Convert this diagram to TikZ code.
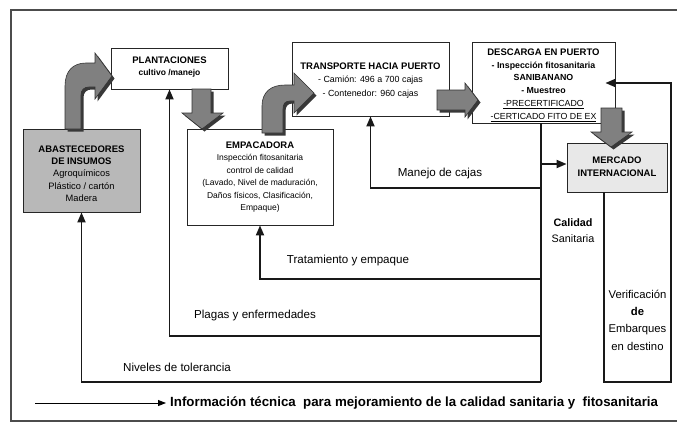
\documentclass[tikz,border=0pt]{standalone}
\usepackage{fontspec}
\setmainfont{Liberation Sans}
\usetikzlibrary{arrows.meta}
\newcommand\ttlfont{\fontsize{9.5}{12.4}\selectfont\bfseries}
\begin{document}
\begin{tikzpicture}[x=1pt,y=-1pt,
  box/.style={draw=black!85, line width=0.8pt, fill=white, inner sep=0pt},
  conn/.style={line width=1.8pt, draw=black!90},
  tip/.style={-{Triangle[width=8pt,length=10pt]}},
  fat/.style={fill=black!50, draw=black!80, line width=0.6pt},
  fatsh/.style={fill=black!78, draw=none},
  btxt/.style={align=center, inner sep=0pt},
  lbl/.style={inner sep=0pt, font=\fontsize{11.6}{14}\selectfont},
]
\useasboundingbox (0,0) rectangle (677,424);
\fill[white] (0,0) rectangle (677,424);
\draw[line width=1.2pt, black!70] (677,10) -- (11,10) -- (11,421) -- (677,421);

% boxes
\node[box, minimum width=117pt, minimum height=41pt] (plant) at (169.5,68.5) {};
\node[box, fill=black!28, minimum width=117pt, minimum height=83pt] (abast) at (81.5,170.5) {};
\node[box, minimum width=146pt, minimum height=96pt] (emp) at (260,177) {};
\node[box, minimum width=157pt, minimum height=74pt] (transp) at (370.5,79) {};
\node[box, minimum width=143pt, minimum height=81pt] (desc) at (543.5,82.5) {};
\node[box, fill=black!9, minimum width=100pt, minimum height=49pt] (merc) at (617,167.5) {};

% connectors
\coordinate (tBot) at (541,382);
\coordinate (jMan) at (541,188);
\coordinate (jTra) at (541,279);
\coordinate (jPla) at (541,336);
\coordinate (jMer) at (541,164);
\draw[conn] (desc.south -| tBot) -- (tBot);
\draw[conn,tip] (jMan) -| (transp.south);
\draw[conn,tip] (jTra) -| (emp.south);
\draw[conn,tip] (jPla) -| (plant.south);
\draw[conn,tip] (tBot) -| (abast.south);
\draw[conn,tip] (jMer) -- (jMer -| merc.west);
\coordinate (vA) at (604,192);
\coordinate (vB) at (604,382);
\coordinate (vC) at (671,382);
\coordinate (vD) at (671,83);
\draw[conn,tip] (vA) -- (vB) -- (vC) -- (vD) -- ([xshift=-10pt]vD -| desc.east);

% fat arrows: shadows
\begin{scope}[shift={(2.5,2.5)}]
\fill[fatsh] (65,129) -- (65,86) .. controls (65,71) and (73,63) .. (86,63) -- (95,63) -- (95,53) -- (112,76) -- (95,99) -- (95,87) -- (89,87) .. controls (84,87) and (81,90) .. (81,95) -- (81,129) -- cycle;
\fill[fatsh] (262,133) -- (262,106) .. controls (262,92) and (271,85) .. (285,85) -- (294,85) -- (294,73) -- (314,93) -- (294,113) -- (294,101) -- (290,101) .. controls (285,101) and (283,104) .. (283,109) -- (283,133) -- cycle;
\fill[fatsh] (192,89) -- (211,89) -- (211,113) -- (223,113) -- (202,129) -- (182,113) -- (192,113) -- cycle;
\fill[fatsh] (437,90) -- (465,90) -- (465,83) -- (478,100) -- (465,117) -- (465,110) -- (437,110) -- cycle;
\fill[fatsh] (601,108) -- (622,108) -- (622,132) -- (632,132) -- (611,147) -- (591,132) -- (601,132) -- cycle;
\end{scope}
% fat arrows
\draw[fat] (65,129) -- (65,86) .. controls (65,71) and (73,63) .. (86,63) -- (95,63) -- (95,53) -- (112,76) -- (95,99) -- (95,87) -- (89,87) .. controls (84,87) and (81,90) .. (81,95) -- (81,129) -- cycle;
\draw[fat] (262,133) -- (262,106) .. controls (262,92) and (271,85) .. (285,85) -- (294,85) -- (294,73) -- (314,93) -- (294,113) -- (294,101) -- (290,101) .. controls (285,101) and (283,104) .. (283,109) -- (283,133) -- cycle;
\draw[fat] (192,89) -- (211,89) -- (211,113) -- (223,113) -- (202,129) -- (182,113) -- (192,113) -- cycle;
\draw[fat] (437,90) -- (465,90) -- (465,83) -- (478,100) -- (465,117) -- (465,110) -- (437,110) -- cycle;
\draw[fat] (601,108) -- (622,108) -- (622,132) -- (632,132) -- (611,147) -- (591,132) -- (601,132) -- cycle;

% box texts
\node[btxt, font=\fontsize{9}{12}\selectfont] (plantT) at (169.5,67)
  {{\ttlfont PLANTACIONES}\\ {\bfseries\fontsize{8.5}{12}\selectfont cultivo /manejo}};
\node[btxt, font=\fontsize{9.3}{12.3}\selectfont] (abastT) at (81.5,173.5)
  {{\ttlfont ABASTECEDORES}\\ {\ttlfont DE INSUMOS}\\ Agroquímicos\\ Plástico / cartón\\ Madera};
\node[btxt, font=\fontsize{8.5}{12.4}\selectfont] (empT) at (260,177)
  {{\ttlfont EMPACADORA}\\ Inspección fitosanitaria\\ control de calidad\\ (Lavado, Nivel de maduración,\\ Daños físicos, Clasificación,\\ Empaque)};
\node[btxt, font=\fontsize{8.9}{13.5}\selectfont] (transpT) at (370.5,80.5)
  {{\ttlfont TRANSPORTE HACIA PUERTO}\\ - Camión: 496 a 700 cajas\\ - Contenedor: 960 cajas};
\node[btxt, font=\fontsize{8.8}{12.8}\selectfont] (descT) at (543.5,85)
  {{\ttlfont DESCARGA EN PUERTO}\\ {\bfseries - Inspección fitosanitaria}\\ {\bfseries SANIBANANO}\\ {\bfseries - Muestreo}\\ \underline{-PRECERTIFICADO}\\ \underline{-CERTICADO FITO DE EX}};
\node[btxt, font=\fontsize{9.5}{13}\selectfont] (mercT) at (617,167)
  {{\ttlfont MERCADO}\\ {\ttlfont INTERNACIONAL}};

% labels
\node[lbl] (manL) at (440,173) {Manejo de cajas};
\node[btxt, font=\fontsize{10.8}{16}\selectfont] (calL) at (573,231) {\textbf{Calidad}\\ Sanitaria};
\node[lbl] (traL) at (348,260) {Tratamiento y empaque};
\node[lbl] (plaL) at (255,315) {Plagas y enfermedades};
\node[lbl] (nivL) at (177,367) {Niveles de tolerancia};
\node[btxt, font=\fontsize{11.3}{17.3}\selectfont] (verL) at (637.5,320) {Verificación\\ \textbf{de}\\ Embarques\\ en destino};

% legend
\coordinate (legA) at (35,403);
\coordinate (legB) at (166,403);
\draw[line width=0.9pt, -{Triangle[width=6pt,length=8pt]}] (legA) -- (legB);
\node[inner sep=0pt, anchor=west, font=\fontsize{13.3}{16}\selectfont\bfseries] (legT) at (170,403)
  {Información técnica\ \ para mejoramiento de la calidad sanitaria y\ \ fitosanitaria};
\end{tikzpicture}
\end{document}
